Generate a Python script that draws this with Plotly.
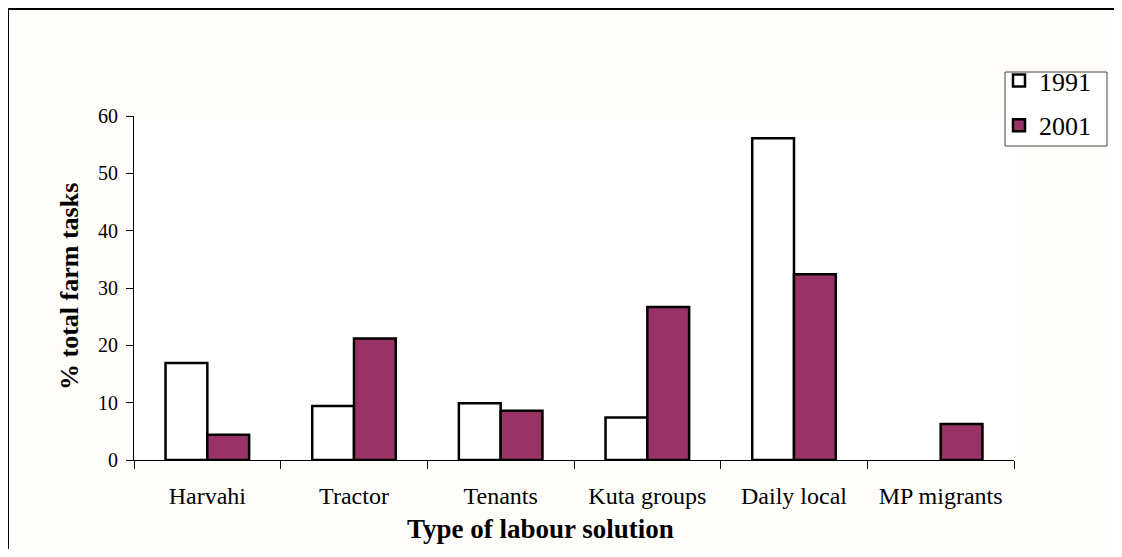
import plotly.graph_objects as go

categories = ["Harvahi", "Tractor", "Tenants", "Kuta groups", "Daily local", "MP migrants"]
values_1991 = [16.9, 9.4, 9.9, 7.4, 56.1, 0]
values_2001 = [4.4, 21.2, 8.6, 26.7, 32.4, 6.3]
y_ticks = [0, 10, 20, 30, 40, 50, 60]

# The page body adds an 8px margin; the figure is sized to fit the window exactly.
OFF = 8
W, H = 1122 - OFF, 557 - 2 * OFF
L, R, T, B = 134 - OFF, 108, 116 - OFF, 89
pw, ph = W - L - R, H - T - B


def px(sx):
    return (sx - OFF - L) / pw


def py(sy):
    return (H - B - (sy - OFF)) / ph


fig = go.Figure()
fig.add_trace(go.Bar(name="1991", x=categories, y=[v if v else None for v in values_1991],
                     marker=dict(color="white", line=dict(color="black", width=2.5)),
                     legendgroup="a"))
fig.add_trace(go.Bar(name="2001", x=categories, y=[v if v else None for v in values_2001],
                     marker=dict(color="#993366", line=dict(color="black", width=2.5)),
                     legendgroup="b"))

serif = "Liberation Serif"
fig.update_layout(
    width=W, height=H,
    margin=dict(l=L, r=R, t=T, b=B, autoexpand=False),
    paper_bgcolor="#FFFEFA",
    plot_bgcolor="white",
    barmode="group",
    bargap=0.43,
    bargroupgap=0,
    font=dict(family=serif, color="black"),
    showlegend=True,
    legend=dict(x=px(999), y=py(57), xanchor="left", yanchor="top",
                bgcolor="rgba(0,0,0,0)", borderwidth=0,
                font=dict(size=26, family=serif, color="black"),
                tracegroupgap=8, traceorder="grouped",
                itemwidth=30),
    xaxis=dict(showline=True, linecolor="black", linewidth=1,
               ticks="outside", ticklen=8, tickcolor="black",
               tickson="boundaries", showgrid=False,
               tickfont=dict(size=24, family=serif, color="black"), ticklabelstandoff=14),
    yaxis=dict(range=[0, 60], tickvals=y_ticks, showline=True, linecolor="black",
               linewidth=1, ticks="outside", ticklen=7, tickcolor="black",
               showgrid=False, zeroline=False,
               tickfont=dict(size=20, family=serif, color="black"), ticklabelstandoff=4),
    annotations=[
        dict(text="<b>Type of labour solution</b>", xref="paper", yref="paper",
             x=px(540), y=py(529), xanchor="center", yanchor="middle",
             showarrow=False, font=dict(size=27, family=serif, color="black")),
        dict(text="<b>% total farm tasks</b>", xref="paper", yref="paper",
             x=px(69), y=py(287), xanchor="center", yanchor="middle", textangle=-90,
             showarrow=False, font=dict(size=26, family=serif, color="black")),
    ],
    shapes=[
        dict(type="rect", xref="paper", yref="paper", x0=px(1005), x1=px(1107),
             y0=py(146), y1=py(72), fillcolor="white", layer="above",
             line=dict(color="#444", width=1)),
        dict(type="line", xref="paper", yref="paper", x0=px(8), x1=px(8), y0=py(8), y1=py(560),
             line=dict(color="black", width=2)),
        dict(type="line", xref="paper", yref="paper", x0=px(8), x1=px(1118), y0=py(9), y1=py(9),
             line=dict(color="black", width=2)),
        dict(type="line", xref="paper", yref="paper", x0=px(1118), x1=px(1118), y0=py(8), y1=py(560),
             line=dict(color="black", width=2)),
    ],
)

fig.write_html("out.html")
